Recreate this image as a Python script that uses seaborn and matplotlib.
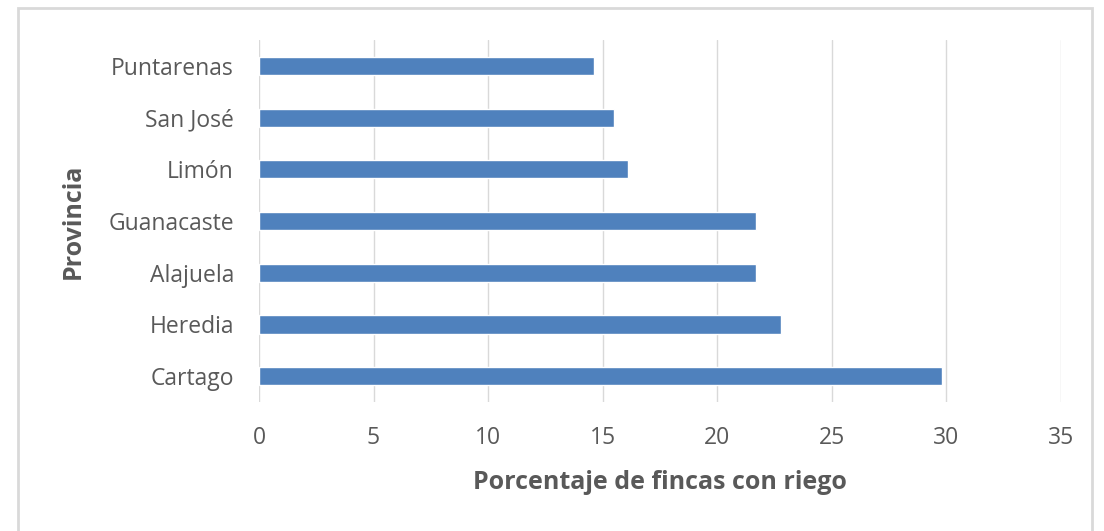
import matplotlib.pyplot as plt
import seaborn as sns
import pandas as pd
from matplotlib.patches import Rectangle

# datos
provincias = ["Puntarenas", "San José", "Limón", "Guanacaste", "Alajuela", "Heredia", "Cartago"]
porcentaje = [14.6, 15.5, 16.1, 21.7, 21.7, 22.8, 29.8]
ticks_x = [0, 5, 10, 15, 20, 25, 30, 35]

df = pd.DataFrame({"Provincia": provincias, "Porcentaje": porcentaje})

sns.set_style("white")
plt.rcParams["font.family"] = ["Open Sans", "DejaVu Sans"]

fig = plt.figure(figsize=(11.04, 5.31), dpi=100)
ax = fig.add_axes([0.2346, 0.2429, 0.7264, 0.6817])

sns.barplot(data=df, x="Porcentaje", y="Provincia", orient="h", color="#4F81BD",
            saturation=1, width=0.35, ax=ax)

ax.set_xlim(0, 35)
ax.set_xticks(ticks_x)
ax.xaxis.grid(True, color="#D9D9D9", linewidth=1)
ax.set_axisbelow(True)
for s in ax.spines.values():
    s.set_visible(False)
ax.tick_params(axis="both", length=0, labelsize=16.5, colors="#595959")
ax.tick_params(axis="x", pad=17)
ax.tick_params(axis="y", pad=18)

ax.set_xlabel("Porcentaje de fincas con riego", fontsize=18, fontweight="bold",
              color="#595959", labelpad=15)
ax.set_ylabel("Provincia", fontsize=18, fontweight="bold", color="#595959", labelpad=16)

# marco gris del grafico
fig.patches.append(Rectangle((18 / 1104, -0.05), (1092 - 18) / 1104, 1.05 - 8 / 531,
                             transform=fig.transFigure, fill=False,
                             edgecolor="#D9D9D9", linewidth=2))

fig.savefig("out.png", dpi=100)
